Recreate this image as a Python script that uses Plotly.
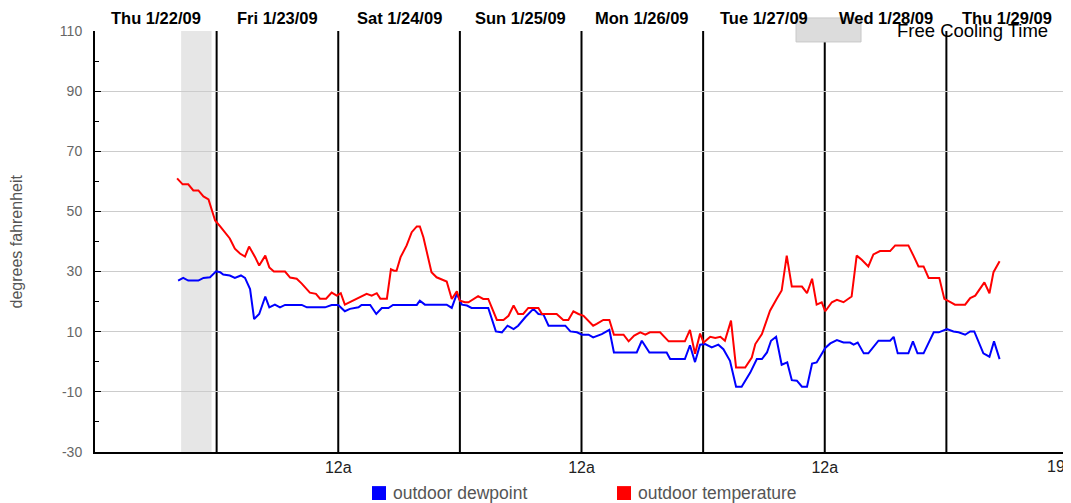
import pandas as pd
import plotly.graph_objects as go

start = pd.Timestamp("2009-01-22 00:00")

# hours after Thu 1/22/09 00:00, degrees F
temp_hours = [16.2, 17.3, 18.4, 19.4, 20.4, 21.4, 22.4, 23.7, 24.7, 26.6, 27.6, 28.6, 29.6, 30.4,
              31.6, 32.4, 33.6, 34.4, 35.3, 37.5, 38.5, 39.8, 40.8, 42.4, 43.6, 44.4, 45.6, 46.7,
              47.7, 48.5, 49.3, 51.6, 53.6, 54.6, 55.6, 56.3, 57.6, 58.4, 59.0, 59.5, 60.3, 61.5,
              62.5, 63.5, 64.1, 64.8, 65.5, 66.4, 67.4, 69.4, 70.4, 71.4, 72.0, 73.0, 73.7, 75.6,
              76.6, 77.6, 79.3, 80.6, 81.6, 82.6, 83.5, 84.5, 85.5, 87.5, 88.2, 91.1, 92.4, 93.4,
              94.4, 95.4, 96.4, 98.3, 99.0, 100.3, 101.5, 102.4, 104.3, 105.3, 106.4, 107.6, 108.6,
              109.5, 111.5, 113.2, 116.4, 117.4, 118.4, 119.4, 120.1, 121.4, 122.4, 123.4, 124.3,
              125.5, 126.5, 128.3, 129.6, 130.3, 131.6, 133.2, 134.5, 135.5, 136.5, 137.5, 139.5,
              140.5, 141.5, 142.4, 143.4, 144.1, 145.4, 146.4, 147.7, 149.3, 150.3, 151.3, 152.6,
              153.6, 154.9, 156.9, 157.9, 160.5, 161.5, 162.5, 163.5, 164.5, 166.6, 167.6, 168.8,
              169.7, 171.7, 172.7, 173.7, 175.5, 176.5, 177.3, 178.5]
temp_vals = [61, 59, 59, 57, 57, 55, 54, 47, 45, 41, 37.6, 36, 35, 38.3,
             34.8, 32, 35.3, 31.4, 30, 30, 28, 27.6, 26, 23, 22.6, 21, 21, 23,
             22, 22.8, 19, 21, 22.6, 22, 22.8, 21, 21, 30.8, 30.3, 30.3, 34.8, 38.7,
             43.1, 45, 45, 41.4, 35.9, 29.8, 28.1, 26.7, 20.9, 23.4, 20.3, 19.8, 19.8, 21.8,
             20.9, 20.9, 13.9, 13.9, 15.3, 18.7, 15.9, 15.9, 17.9, 17.9, 15.9, 15.9, 13.9, 13.9,
             16.8, 15.9, 15.3, 12, 12.6, 13.9, 13.9, 9, 9, 6.8, 8.7, 9.8, 9,
             9.8, 9.8, 6.8, 6.8, 10.6, 2.7, 9.4, 6.4, 8.3, 7.9, 8.3, 7,
             13.7, -1.9, -1.9, 1.4, 5.9, 9.2, 17, 20.9, 23.7, 35.3, 25, 25,
             22.8, 27.6, 19, 19.8, 16.8, 19.8, 20.6, 19.8, 21.7, 35.3, 33.9, 31.7,
             35.7, 36.8, 36.8, 38.7, 38.7, 35.3, 31.7, 31.7, 27.9, 27.9, 20.9, 19.8,
             19, 19, 21.2, 22, 26.4, 22.8, 29.8, 33.4]

dew_hours = [16.4, 17.4, 18.4, 20.4, 21.4, 22.7, 23.9, 24.7, 25.3, 26.6, 27.6, 28.8, 29.6, 30.6,
             31.4, 32.4, 33.6, 34.4, 35.5, 36.5, 37.5, 40.8, 41.8, 45.4, 46.7, 48.0, 49.3, 50.3,
             52.0, 52.6, 54.3, 55.5, 56.6, 57.9, 58.8, 63.5, 64.1, 65.1, 69.4, 70.4, 71.4, 72.4,
             73.4, 74.3, 77.6, 79.1, 80.3, 81.4, 82.6, 83.5, 84.9, 86.5, 87.5, 88.5, 89.5, 92.8,
             93.8, 95.1, 96.1, 97.4, 98.3, 100.0, 101.5, 102.4, 106.9, 107.9, 109.4, 112.8, 113.5,
             116.4, 117.4, 118.4, 119.4, 120.4, 121.7, 123.0, 124.0, 125.3, 126.5, 127.6, 129.3,
             130.6, 131.6, 132.6, 133.4, 134.4, 135.5, 136.6, 137.5, 138.5, 139.5, 140.5, 141.5,
             142.4, 144.1, 145.1, 146.4, 147.7, 149.0, 149.7, 150.5, 151.7, 152.6, 154.6, 156.9,
             157.6, 158.4, 160.5, 161.4, 162.3, 163.5, 165.5, 166.5, 168.1, 169.4, 170.4, 171.7,
             172.7, 173.5, 175.3, 176.5, 177.4, 178.5]
dew_vals = [27, 27.9, 27, 27, 27.9, 28.1, 30.1, 29.8, 29, 28.7, 27.9, 28.7, 27.9, 24.2,
            14.2, 15.9, 21.7, 18.1, 19, 18.1, 18.9, 18.9, 18.1, 18.1, 18.9, 18.9, 16.8, 17.6,
            18.1, 18.9, 18.9, 15.9, 17.9, 17.9, 18.9, 18.9, 20.3, 19, 19, 17.9, 22.6, 19,
            18.7, 17.9, 17.9, 10.1, 9.8, 12, 10.9, 12, 14.8, 17.6, 15.9, 15.7, 12, 12,
            10.1, 9.8, 9, 9, 8.1, 9.2, 10.6, 3.1, 3.1, 7, 3.1, 3.1, 0.9,
            0.9, 5.5, -0.1, 5.7, 5.9, 4.8, 5.7, 4.2, 0.3, -8.3, -8.3, -3.6,
            0.9, 0.9, 3.1, 7, 8.3, -1, -0.2, -6.1, -6.3, -8.3, -8.3, -0.6,
            -0.2, 4.6, 6.1, 7.2, 6.4, 6.4, 5.7, 6.4, 2.8, 2.8, 7, 7,
            8.3, 2.8, 2.8, 6.8, 2.8, 2.8, 9.8, 9.8, 10.9, 10.1, 9.8, 9,
            10.1, 10.1, 2.8, 1.7, 6.8, 0.9]

day_labels = ["Thu 1/22/09", "Fri 1/23/09", "Sat 1/24/09", "Sun 1/25/09",
              "Mon 1/26/09", "Tue 1/27/09", "Wed 1/28/09", "Thu 1/29/09"]
bottom_ticks = ["2009-01-24", "2009-01-26", "2009-01-28"]
bottom_text = ["12a", "12a", "12a"]
y_ticks = [-30, -10, 10, 30, 50, 70, 90, 110]
y_text = ["-30", "-10", "10", "30", "50", "70", "90", "110"]
cooling = ("2009-01-22 17:00", "2009-01-22 23:00")

temp_x = start + pd.to_timedelta(temp_hours, unit="h")
dew_x = start + pd.to_timedelta(dew_hours, unit="h")

fig = go.Figure()
fig.add_trace(go.Scatter(x=dew_x, y=dew_vals, mode="lines", name="outdoor dewpoint",
                         line=dict(color="#0000ff", width=2)))
fig.add_trace(go.Scatter(x=temp_x, y=temp_vals, mode="lines", name="outdoor temperature",
                         line=dict(color="#ff0000", width=2)))

# free cooling band
fig.add_shape(type="rect", xref="x", yref="paper", x0=cooling[0], x1=cooling[1], y0=0, y1=1,
              fillcolor="#e6e6e6", line_width=0, layer="below")

# midnight lines
for d in range(1, 9):
    day = start + pd.Timedelta(days=d)
    fig.add_shape(type="line", xref="x", yref="paper", x0=day, x1=day, y0=0, y1=1,
                  line=dict(color="black", width=2), layer="between")

for i, lab in enumerate(day_labels):
    fig.add_annotation(x=start + pd.Timedelta(hours=24 * i + 12), y=1.031, xref="x", yref="paper",
                       yanchor="middle", text="<b>" + lab + "</b>", showarrow=False,
                       font=dict(size=16.5, color="black", family="Liberation Sans"))

# top "legend" entry for free cooling
fig.add_shape(type="rect", xref="paper", yref="paper", x0=0.7205, x1=0.7873, y0=0.974, y1=1.031,
              fillcolor="#dcdcdc", line=dict(color="#c8c8c8", width=1))
fig.add_annotation(x=0.8222, y=1.002, xref="paper", yref="paper", xanchor="left", yanchor="middle",
                   text="Free Cooling Time", showarrow=False,
                   font=dict(size=18.5, color="black", family="Liberation Sans"))

# bottom legend
for x0, col, txt in [(0.2847, "#0000ff", "outdoor dewpoint"), (0.5365, "#ff0000", "outdoor temperature")]:
    fig.add_shape(type="rect", xref="paper", yref="paper", x0=x0, x1=x0 + 0.0144,
                  y0=-0.114, y1=-0.081, fillcolor=col, line_width=0)
    fig.add_annotation(x=x0 + 0.0195, y=-0.0974, xref="paper", yref="paper", xanchor="left",
                       yanchor="middle", text=txt, showarrow=False,
                       font=dict(size=17.5, color="#555555", family="Liberation Sans"))

fig.add_annotation(x=1.0, y=-0.0356, xref="paper", yref="paper", xanchor="left", yanchor="middle",
                   xshift=-23, text="19", showarrow=False,
                   font=dict(size=16, color="#222222", family="Liberation Sans"))

fig.add_annotation(x=-0.0802, y=0.5, xref="paper", yref="paper", xanchor="center", yanchor="middle",
                   textangle=-90, text="degrees fahrenheit", showarrow=False,
                   font=dict(size=16, color="#555555", family="Liberation Sans"))

fig.update_xaxes(type="date", range=[start, start + pd.Timedelta(days=8)],
                 tickvals=bottom_ticks, ticktext=bottom_text, ticks="", showgrid=False,
                 showline=True, linecolor="black", linewidth=2, zeroline=False,
                 tickfont=dict(size=16, color="#222222", family="Liberation Sans"))
fig.update_yaxes(range=[-30, 110], tickvals=y_ticks, ticktext=y_text, ticks="inside", ticklen=6,
                 tickcolor="black", showgrid=True, gridcolor="#cccccc", gridwidth=1,
                 showline=True, linecolor="black", linewidth=2, zeroline=False,
                 ticklabelstandoff=8,
                 minor=dict(dtick=10, tick0=-30, ticks="inside", ticklen=4, tickcolor="black",
                            showgrid=False),
                 tickfont=dict(size=14, color="#666666", family="Liberation Sans"))

# page body has an 8px margin, so the figure is sized to land the plot area where the original has it
fig.update_layout(width=1063, height=495, margin=dict(l=87, r=3, t=23, b=51),
                  plot_bgcolor="white", paper_bgcolor="white", showlegend=False)

fig.write_html("out.html")
